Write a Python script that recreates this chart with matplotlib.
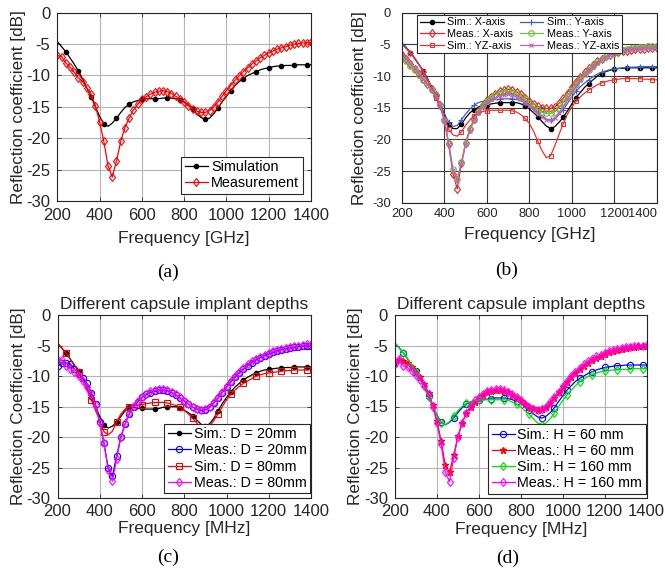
import matplotlib
matplotlib.use("Agg")
import matplotlib.pyplot as plt

plt.rcParams['font.family'] = ['Liberation Sans', 'DejaVu Sans']
plt.rcParams['axes.unicode_minus'] = False

# frequency sweep [MHz]
freq = [200, 220, 240, 260, 280, 300, 320, 340, 360, 380,
        400, 420, 440, 460, 480, 500, 520, 540, 560, 580,
        600, 620, 640, 660, 680, 700, 720, 740, 760, 780,
        800, 820, 840, 860, 880, 900, 920, 940, 960, 980,
        1000, 1020, 1040, 1060, 1080, 1100, 1120, 1140, 1160, 1180,
        1200, 1220, 1240, 1260, 1280, 1300, 1320, 1340, 1360, 1380,
        1400]

# (a)
a_sim = [-4.6, -5.4, -6.2, -7.2, -8.2, -9.3, -10.6, -12.0, -13.4, -15.0,
         -16.5, -17.7, -18.1, -17.6, -16.8, -15.9, -15.1, -14.6, -14.2, -14.0,
         -13.8, -13.7, -13.7, -13.7, -13.7, -13.6, -13.6, -13.6, -13.7, -13.9,
         -14.2, -14.7, -15.4, -16.1, -16.7, -17.0, -16.8, -16.1, -15.2, -14.2,
         -13.3, -12.4, -11.6, -11.0, -10.5, -10.0, -9.7, -9.4, -9.1, -8.9,
         -8.8, -8.6, -8.5, -8.5, -8.4, -8.4, -8.4, -8.3, -8.3, -8.3,
         -8.3]
a_meas = [-6.8, -7.0, -8.0, -8.7, -9.5, -10.4, -11.0, -12.0, -13.0, -14.8,
          -17.4, -20.5, -24.4, -26.2, -23.6, -20.5, -18.3, -16.8, -15.5, -14.6,
          -13.8, -13.4, -13.0, -12.7, -12.5, -12.4, -12.6, -12.9, -13.3, -13.8,
          -14.3, -14.8, -15.3, -15.7, -15.9, -15.9, -15.6, -15.0, -14.2, -13.3,
          -12.4, -11.6, -10.8, -10.1, -9.4, -8.8, -8.2, -7.7, -7.2, -6.8,
          -6.4, -6.1, -5.8, -5.6, -5.4, -5.2, -5.0, -4.9, -4.8, -4.8,
          -4.7]

# (b)
b_sim_x = [-4.8, -5.5, -6.3, -7.2, -8.2, -9.2, -10.4, -11.7, -13.0, -14.5,
           -16.0, -17.5, -18.3, -18.3, -17.6, -16.6, -15.8, -15.3, -14.9, -14.6,
           -14.5, -14.4, -14.3, -14.2, -14.2, -14.2, -14.2, -14.2, -14.4, -14.7,
           -15.2, -15.8, -16.4, -17.2, -17.9, -18.3, -18.0, -17.3, -16.5, -15.5,
           -14.4, -13.4, -12.6, -11.8, -11.2, -10.6, -10.0, -9.6, -9.3, -9.1,
           -8.9, -8.8, -8.8, -8.7, -8.7, -8.7, -8.7, -8.7, -8.7, -8.7,
           -8.7]
b_sim_y = [-4.8, -5.5, -6.3, -7.2, -8.2, -9.3, -10.5, -11.8, -13.1, -14.6,
           -16.0, -17.3, -18.0, -17.8, -16.9, -16.0, -15.2, -14.6, -14.2, -14.0,
           -13.8, -13.7, -13.7, -13.7, -13.6, -13.6, -13.6, -13.7, -13.9, -14.2,
           -14.6, -15.1, -15.7, -16.3, -16.8, -17.0, -16.7, -16.1, -15.3, -14.3,
           -13.3, -12.4, -11.7, -11.1, -10.6, -10.1, -9.7, -9.4, -9.2, -9.0,
           -8.9, -8.8, -8.7, -8.6, -8.6, -8.6, -8.5, -8.5, -8.5, -8.5,
           -8.5]
b_sim_yz = [-5.0, -5.7, -6.4, -7.3, -8.2, -9.3, -10.6, -12.0, -13.5, -15.1,
            -16.7, -18.4, -19.3, -19.5, -18.8, -17.8, -16.9, -16.3, -15.9, -15.6,
            -15.5, -15.4, -15.4, -15.4, -15.4, -15.4, -15.5, -15.7, -16.1, -16.7,
            -17.5, -18.7, -20.3, -21.8, -22.9, -22.6, -21.0, -19.2, -17.5, -16.0,
            -14.9, -14.0, -13.3, -12.7, -12.2, -11.8, -11.4, -11.1, -10.9, -10.7,
            -10.6, -10.5, -10.4, -10.4, -10.4, -10.4, -10.4, -10.5, -10.5, -10.6,
            -10.6]
b_meas_x = [-6.6, -7.3, -8.1, -8.9, -9.7, -10.5, -11.2, -12.1, -13.0, -14.6,
            -17.0, -20.8, -25.4, -27.8, -23.8, -20.5, -18.3, -16.8, -15.5, -14.5,
            -13.8, -13.3, -12.8, -12.4, -12.2, -12.1, -12.2, -12.5, -12.9, -13.4,
            -13.9, -14.4, -14.8, -15.0, -15.1, -15.1, -14.9, -14.3, -13.5, -12.6,
            -11.7, -10.9, -10.1, -9.4, -8.8, -8.2, -7.7, -7.3, -6.9, -6.6,
            -6.4, -6.2, -6.1, -6.0, -5.9, -5.8, -5.8, -5.7, -5.6, -5.6,
            -5.5]
b_meas_y = [-7.0, -7.6, -8.4, -9.1, -9.8, -10.6, -11.3, -12.2, -13.1, -14.6,
            -17.0, -20.6, -24.6, -26.2, -23.6, -20.5, -18.4, -16.9, -15.6, -14.6,
            -13.9, -13.4, -13.0, -12.7, -12.5, -12.4, -12.5, -12.8, -13.2, -13.7,
            -14.3, -14.8, -15.3, -15.7, -15.9, -15.9, -15.6, -15.0, -14.1, -13.1,
            -12.2, -11.3, -10.5, -9.7, -9.0, -8.4, -7.8, -7.3, -6.9, -6.6,
            -6.3, -6.1, -5.9, -5.8, -5.6, -5.5, -5.4, -5.4, -5.3, -5.3,
            -5.2]
b_meas_yz = [-6.5, -7.2, -8.0, -8.8, -9.6, -10.5, -11.3, -12.2, -13.1, -14.6,
             -17.1, -20.8, -24.9, -26.5, -23.9, -20.8, -18.6, -17.0, -15.8, -14.9,
             -14.2, -13.7, -13.4, -13.1, -13.0, -12.9, -13.0, -13.3, -13.7, -14.2,
             -14.8, -15.4, -16.0, -16.5, -16.9, -17.0, -16.6, -15.8, -14.8, -13.6,
             -12.5, -11.5, -10.6, -9.8, -9.1, -8.5, -7.9, -7.4, -7.0, -6.7,
             -6.4, -6.2, -6.0, -5.9, -5.8, -5.7, -5.6, -5.6, -5.5, -5.5,
             -5.4]

# (c)
c_sim_20 = [-4.6, -5.4, -6.2, -7.2, -8.2, -9.2, -10.5, -11.9, -13.4, -15.0,
            -16.6, -18.0, -18.5, -18.2, -17.5, -16.6, -15.7, -15.1, -15.1, -15.3,
            -15.3, -15.4, -15.4, -15.4, -15.3, -15.1, -15.1, -15.0, -15.0, -15.2,
            -15.6, -16.0, -16.5, -17.2, -17.9, -18.2, -17.8, -16.9, -15.7, -14.5,
            -13.5, -12.6, -11.8, -11.2, -10.6, -10.2, -9.8, -9.5, -9.2, -9.0,
            -8.9, -8.8, -8.7, -8.7, -8.6, -8.6, -8.5, -8.5, -8.5, -8.5,
            -8.5]
c_meas_20 = [-8.4, -7.8, -7.9, -8.0, -8.8, -9.6, -10.3, -11.2, -12.7, -14.6,
             -17.5, -21.0, -25.1, -26.4, -23.0, -20.0, -17.8, -16.2, -15.0, -14.2,
             -13.5, -13.0, -12.7, -12.5, -12.3, -12.3, -12.4, -12.7, -13.1, -13.6,
             -14.1, -14.6, -15.1, -15.4, -15.6, -15.5, -15.1, -14.4, -13.6, -12.7,
             -11.8, -11.0, -10.2, -9.5, -8.9, -8.3, -7.8, -7.4, -7.0, -6.7,
             -6.4, -6.1, -5.9, -5.7, -5.6, -5.4, -5.3, -5.2, -5.1, -5.0,
             -5.0]
c_sim_80 = [-4.6, -5.4, -6.2, -7.2, -8.2, -9.3, -10.7, -12.3, -13.9, -15.6,
            -17.3, -19.1, -19.6, -19.0, -17.5, -16.2, -15.4, -15.0, -14.9, -14.8,
            -14.7, -14.5, -14.4, -14.3, -14.3, -14.3, -14.4, -14.6, -14.8, -15.1,
            -15.6, -16.2, -16.9, -17.7, -18.4, -18.6, -18.2, -17.3, -16.2, -15.0,
            -13.9, -13.0, -12.3, -11.7, -11.2, -10.8, -10.4, -10.0, -9.8, -9.6,
            -9.5, -9.4, -9.3, -9.2, -9.1, -9.1, -9.0, -9.0, -9.0, -9.0,
            -9.0]
c_meas_80 = [-7.4, -7.3, -8.4, -8.8, -9.3, -10.0, -10.8, -11.8, -13.0, -14.8,
             -17.6, -21.0, -25.3, -27.2, -23.5, -20.0, -17.7, -16.1, -14.9, -14.0,
             -13.4, -12.9, -12.5, -12.3, -12.1, -12.1, -12.3, -12.6, -13.0, -13.5,
             -14.0, -14.6, -15.1, -15.4, -15.5, -15.4, -15.0, -14.3, -13.5, -12.6,
             -11.7, -10.8, -10.0, -9.3, -8.7, -8.1, -7.6, -7.2, -6.8, -6.5,
             -6.2, -5.9, -5.7, -5.5, -5.4, -5.2, -5.1, -5.0, -4.9, -4.8,
             -4.8]

# (d)
d_sim_60 = [-4.6, -5.4, -6.2, -7.2, -8.2, -9.2, -10.5, -11.9, -13.3, -14.9,
            -16.4, -17.6, -18.0, -17.6, -16.9, -16.0, -15.2, -14.6, -14.3, -14.1,
            -14.0, -13.9, -13.8, -13.7, -13.6, -13.6, -13.6, -13.7, -13.9, -14.1,
            -14.5, -15.0, -15.6, -16.2, -16.7, -16.9, -16.6, -16.0, -15.2, -14.2,
            -13.2, -12.3, -11.6, -10.9, -10.4, -10.0, -9.6, -9.3, -9.0, -8.8,
            -8.6, -8.5, -8.4, -8.3, -8.3, -8.2, -8.2, -8.2, -8.2, -8.2,
            -8.2]
d_meas_60 = [-7.8, -7.3, -7.6, -7.8, -8.5, -9.3, -10.2, -11.3, -12.8, -14.8,
             -17.3, -20.7, -24.6, -25.8, -22.9, -19.9, -17.7, -16.1, -15.0, -14.2,
             -13.6, -13.1, -12.7, -12.5, -12.3, -12.3, -12.4, -12.7, -13.1, -13.6,
             -14.1, -14.6, -15.0, -15.3, -15.5, -15.4, -15.0, -14.4, -13.6, -12.7,
             -11.8, -11.0, -10.2, -9.5, -8.9, -8.3, -7.8, -7.4, -7.0, -6.7,
             -6.4, -6.1, -5.9, -5.7, -5.6, -5.4, -5.3, -5.2, -5.1, -5.1,
             -5.0]
d_sim_160 = [-4.6, -5.4, -6.2, -7.2, -8.2, -9.3, -10.6, -12.0, -13.5, -15.0,
             -16.5, -17.7, -18.0, -17.5, -16.6, -15.7, -15.0, -14.5, -14.2, -14.0,
             -13.9, -13.9, -13.9, -13.9, -13.9, -13.9, -13.9, -14.0, -14.3, -14.6,
             -15.1, -15.7, -16.3, -17.0, -17.7, -18.0, -17.7, -17.0, -16.1, -15.0,
             -14.0, -13.1, -12.3, -11.6, -11.0, -10.5, -10.1, -9.8, -9.5, -9.3,
             -9.2, -9.1, -9.0, -9.0, -8.9, -8.9, -8.9, -8.8, -8.8, -8.8,
             -8.8]
d_meas_160 = [-8.0, -7.2, -8.4, -8.6, -9.2, -9.9, -10.7, -11.7, -13.0, -15.0,
              -17.7, -21.2, -25.8, -27.3, -23.4, -20.0, -17.7, -16.1, -14.9, -14.0,
              -13.4, -12.9, -12.5, -12.3, -12.2, -12.2, -12.3, -12.6, -13.0, -13.5,
              -14.0, -14.6, -15.0, -15.4, -15.5, -15.4, -15.0, -14.3, -13.5, -12.6,
              -11.7, -10.8, -10.0, -9.3, -8.7, -8.1, -7.6, -7.2, -6.8, -6.5,
              -6.2, -5.9, -5.7, -5.5, -5.4, -5.3, -5.2, -5.1, -5.0, -5.0,
              -4.9]

SIM_EVERY = (2, 3)   # simulated markers every 60 MHz starting at 240
LW = 0.9


def style_axes(ax, tick_size, grid_color, ylabel, xlabel):
    ax.set_xlim(200, 1400)
    ax.set_ylim(-30, 0)
    ax.set_xticks(range(200, 1401, 200))
    ax.set_yticks(range(-30, 1, 5))
    ax.grid(True, color=grid_color, linewidth=0.8)
    ax.set_axisbelow(True)
    ax.tick_params(direction='in', length=3, width=0.6, labelsize=tick_size,
                   top=True, right=True, colors='#262626')
    for sp in ax.spines.values():
        sp.set_color('#262626')
        sp.set_linewidth(0.8)
    ax.set_ylabel(ylabel, fontsize=12.3, color='#262626')
    ax.set_xlabel(xlabel, fontsize=12.5, color='#262626')


def open_marker(ax, y, color, marker, ms, label, every=1, lw=LW):
    return ax.plot(freq, y, color=color, lw=lw, marker=marker, ms=ms,
                   mfc='none', mec=color, mew=0.8, markevery=every, label=label)[0]


def filled_marker(ax, y, color, marker, ms, label, every=1, lw=LW):
    return ax.plot(freq, y, color=color, lw=lw, marker=marker, ms=ms,
                   mfc=color, mec=color, markevery=every, label=label)[0]


fig = plt.figure(figsize=(6.65, 5.8), dpi=100)
W, H = 665.0, 580.0


def add_axes(x0, x1, y0, y1):
    return fig.add_axes([x0 / W, 1 - y1 / H, (x1 - x0) / W, (y1 - y0) / H])


leg_kw = dict(fancybox=False, framealpha=1, edgecolor='#262626', borderaxespad=0,
              borderpad=0.25, labelspacing=0.15)

# ---------- (a)
ax = add_axes(57.3, 311, 12.7, 201)
style_axes(ax, 12, '#b4b4b4', 'Reflection coefficient [dB]', 'Frequency [GHz]')
filled_marker(ax, a_sim, 'black', 'o', 3, 'Simulation', SIM_EVERY)
open_marker(ax, a_meas, 'red', 'd', 4.5, 'Measurement')
leg = ax.legend(loc='lower right', bbox_to_anchor=(0.967, 0.037), fontsize=10.4,
                handlelength=1.6, handletextpad=0.2, **leg_kw)
leg.get_frame().set_linewidth(0.8)
ax.yaxis.set_label_coords(-0.125, 0.5)
ax.xaxis.set_label_coords(0.5, -0.16)
ax.tick_params(axis='y', pad=5)
ax.tick_params(axis='x', pad=5)

# ---------- (b)
ax = add_axes(402, 656.7, 12.7, 202.7)
style_axes(ax, 9.3, '#3c3c3c', 'Reflection coefficient [dB]', 'Frequency [GHz]')
h1 = filled_marker(ax, b_sim_x, 'black', 'o', 3, 'Sim.: X-axis', SIM_EVERY)
h2 = open_marker(ax, b_sim_y, '#3a5fcd', '+', 5, 'Sim.: Y-axis', SIM_EVERY)
h3 = open_marker(ax, b_meas_x, '#f02020', 'd', 4.5, 'Meas.: X-axis')
h4 = open_marker(ax, b_meas_y, '#6cbf3c', 'o', 4, 'Meas.: Y-axis')
h5 = open_marker(ax, b_sim_yz, '#f03030', 's', 3.5, 'Sim.: YZ-axis', SIM_EVERY)
h6 = open_marker(ax, b_meas_yz, '#c060c0', 'x', 3.5, 'Meas.: YZ-axis')
leg = ax.legend(handles=[h1, h3, h5, h2, h4, h6], ncol=2, loc='upper left',
                bbox_to_anchor=(0.06, 0.99), fontsize=7.8, columnspacing=0.6,
                handlelength=2.2, handletextpad=0.3, **leg_kw)
leg.get_frame().set_linewidth(0.8)
ax.tick_params(axis='y', pad=8)
ax.tick_params(axis='x', pad=4)
ax.yaxis.set_label_coords(-0.137, 0.5)
ax.xaxis.set_label_coords(0.5, -0.13)
ax.get_xticklabels()[-1].set_horizontalalignment('right')

# ---------- (c)
ax = add_axes(57.5, 311, 315, 498.3)
style_axes(ax, 12, '#b4b4b4', 'Reflection Coefficient [dB]', 'Frequency [MHz]')
filled_marker(ax, c_sim_20, 'black', 'o', 3, 'Sim.: D = 20mm', SIM_EVERY)
open_marker(ax, c_meas_20, 'blue', 'o', 4.5, 'Meas.: D = 20mm')
open_marker(ax, c_sim_80, 'red', 's', 4, 'Sim.: D = 80mm', SIM_EVERY)
open_marker(ax, c_meas_80, 'magenta', 'd', 4.5, 'Meas.: D = 80mm')
ax.set_title('Different capsule implant depths', fontsize=12.5, pad=4, color='#262626')
leg = ax.legend(loc='lower right', bbox_to_anchor=(0.996, 0.027), fontsize=10.3,
                handlelength=1.6, handletextpad=0.2, **leg_kw)
leg.get_frame().set_linewidth(0.8)
ax.yaxis.set_label_coords(-0.125, 0.5)
ax.xaxis.set_label_coords(0.5, -0.125)
ax.tick_params(axis='y', pad=5)
ax.tick_params(axis='x', pad=4)

# ---------- (d)
ax = add_axes(395, 646.7, 315, 498)
style_axes(ax, 12, '#b4b4b4', 'Reflection Coefficient [dB]', 'Frequency [MHz]')
open_marker(ax, d_sim_60, 'blue', 'o', 4.5, 'Sim.: H = 60 mm', SIM_EVERY)
filled_marker(ax, d_meas_60, 'red', '*', 4.5, 'Meas.: H = 60 mm')
open_marker(ax, d_sim_160, '#00e000', 'd', 4.5, 'Sim.: H = 160 mm', SIM_EVERY)
open_marker(ax, d_meas_160, 'magenta', 'd', 4.5, 'Meas.: H = 160 mm')
ax.set_title('Different capsule implant depths', fontsize=12.5, pad=4, color='#262626')
leg = ax.legend(loc='lower right', bbox_to_anchor=(0.997, 0.022), fontsize=10.3,
                handlelength=1.6, handletextpad=0.2, **leg_kw)
leg.get_frame().set_linewidth(0.8)
ax.yaxis.set_label_coords(-0.128, 0.5)
ax.xaxis.set_label_coords(0.5, -0.13)
ax.tick_params(axis='y', pad=5)
ax.tick_params(axis='x', pad=4)

# captions
for txt, x, y in [('(a)', 168, 272), ('(b)', 507, 270), ('(c)', 168, 557), ('(d)', 508, 558)]:
    fig.text(x / W, 1 - y / H, txt, ha='center', va='center', fontsize=14,
             family=['Liberation Serif', 'DejaVu Serif'])

fig.savefig('out.png', dpi=100)
